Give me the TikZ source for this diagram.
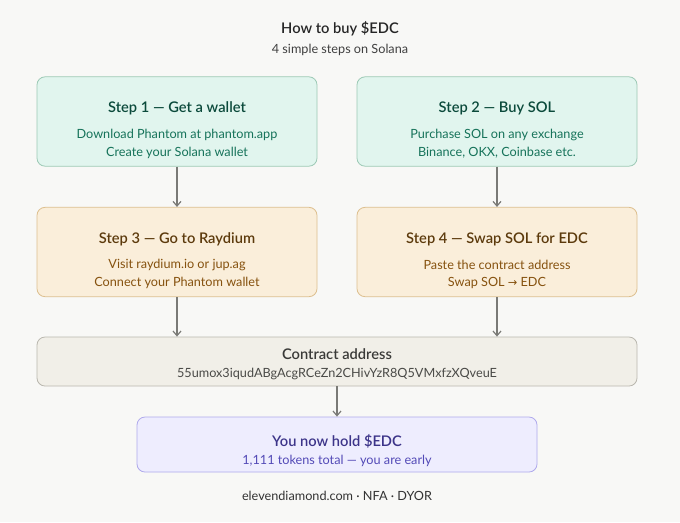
\documentclass[tikz,border=0pt]{standalone}
\usepackage{fontspec}
\setmainfont{Lato}[BoldFont={Lato Semibold}]
\newfontfamily\symfont{DejaVu Sans}
\usepackage{xcolor}
\usetikzlibrary{arrows.meta}

\definecolor{fundo}{HTML}{F8F8F6}
\definecolor{verdefill}{HTML}{E1F5EE}
\definecolor{verdeborda}{HTML}{9CC9B5}
\definecolor{verdetit}{HTML}{0B4A3B}
\definecolor{verdetxt}{HTML}{16735A}
\definecolor{laranjafill}{HTML}{FAEEDA}
\definecolor{laranjaborda}{HTML}{DDBF8E}
\definecolor{laranjatit}{HTML}{5C3A0C}
\definecolor{laranjatxt}{HTML}{86520F}
\definecolor{cinzafill}{HTML}{F1EFE8}
\definecolor{cinzaborda}{HTML}{B9B7AE}
\definecolor{cinzatit}{HTML}{3A3A38}
\definecolor{cinzatxt}{HTML}{4A4A47}
\definecolor{roxofill}{HTML}{EEEDFE}
\definecolor{roxoborda}{HTML}{AFA9EC}
\definecolor{roxotit}{HTML}{3C3489}
\definecolor{roxotxt}{HTML}{534AB7}
\definecolor{seta}{HTML}{7A7A76}

\tikzset{
  caixa/.style={draw, rounded corners=6pt, line width=0.6pt, minimum width=210pt, minimum height=67pt},
  titulo/.style={font=\fontsize{11}{13}\selectfont\bfseries},
  texto/.style={font=\fontsize{9.5}{11}\selectfont},
  ligacao/.style={draw=seta, line width=0.9pt, -{Straight Barb[length=3.5pt,width=6pt]}}
}

\begin{document}
\begin{tikzpicture}[x=0.75pt,y=-0.75pt]
  % Fundo
  \fill[fundo] (0,0) rectangle (680,522);

  % Titulo
  \node[titulo, text=black!85] (tit) at (340,29) {How to buy \$EDC};
  \node[texto, text=black!75] (sub) at (340,50) {4 simple steps on Solana};

  % Passos 1 e 2
  \node[caixa, fill=verdefill, draw=verdeborda] (s1) at (177,121.5) {};
  \node[titulo, text=verdetit] (s1h) at (177,108) {Step 1 — Get a wallet};
  \node[texto, text=verdetxt] (s1a) at (177,135) {Download Phantom at phantom.app};
  \node[texto, text=verdetxt] (s1b) at (177,153) {Create your Solana wallet};

  \node[caixa, fill=verdefill, draw=verdeborda] (s2) at (497,121.5) {};
  \node[titulo, text=verdetit] (s2h) at (497,108) {Step 2 — Buy SOL};
  \node[texto, text=verdetxt] (s2a) at (497,135) {Purchase SOL on any exchange};
  \node[texto, text=verdetxt] (s2b) at (497,153) {Binance, OKX, Coinbase etc.};

  % Passos 3 e 4
  \node[caixa, fill=laranjafill, draw=laranjaborda] (s3) at (177,252) {};
  \node[titulo, text=laranjatit] (s3h) at (177,239) {Step 3 — Go to Raydium};
  \node[texto, text=laranjatxt] (s3a) at (177,265) {Visit raydium.io or jup.ag};
  \node[texto, text=laranjatxt] (s3b) at (177,283) {Connect your Phantom wallet};

  \node[caixa, fill=laranjafill, draw=laranjaborda] (s4) at (497,252) {};
  \node[titulo, text=laranjatit] (s4h) at (497,239) {Step 4 — Swap SOL for EDC};
  \node[texto, text=laranjatxt] (s4a) at (497,265) {Paste the contract address};
  \node[texto, text=laranjatxt] (s4b) at (497,283) {Swap SOL {\symfont\fontsize{8.5}{10}\selectfont →} EDC};

  % Endereco do contrato
  \node[caixa, fill=cinzafill, draw=cinzaborda, minimum width=450pt, minimum height=36.75pt] (ca) at (337,361.5) {};
  \node[titulo, text=cinzatit] (cah) at (337,354) {Contract address};
  \node[texto, text=cinzatxt] (caa) at (337,374) {55umox3iqudABgAcgRCeZn2CHivYzR8Q5VMxfzXQveuE};

  % Resultado final
  \node[caixa, fill=roxofill, draw=roxoborda, minimum width=300pt, minimum height=41.25pt] (fim) at (337,444.5) {};
  \node[titulo, text=roxotit] (fimh) at (337,441) {You now hold \$EDC};
  \node[texto, text=roxotxt] (fima) at (337,461) {1,111 tokens total — you are early};

  % Rodape
  \node[texto, text=black!80] (rod) at (337,496) {elevendiamond.com · NFA · DYOR};

  % Setas
  \draw[ligacao] (s1) -- (s3);
  \draw[ligacao] (s2) -- (s4);
  \draw[ligacao] (s3.south) -- (s3.south |- ca.north);
  \draw[ligacao] (s4.south) -- (s4.south |- ca.north);
  \draw[ligacao] (ca) -- (fim);
\end{tikzpicture}
\end{document}
